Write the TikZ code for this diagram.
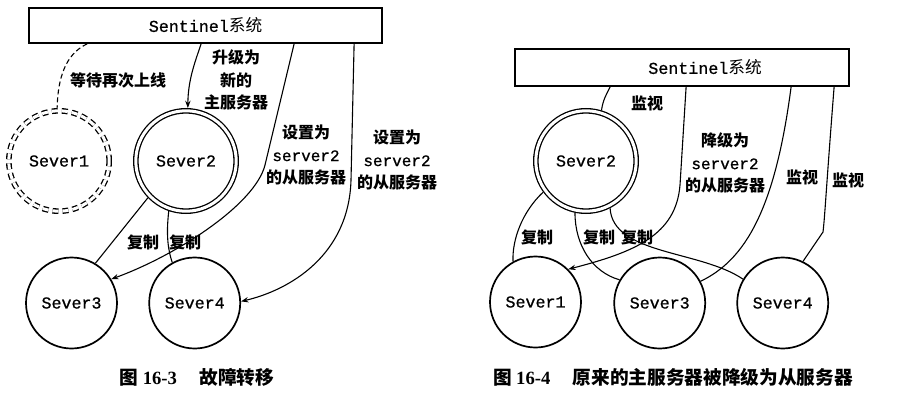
\documentclass[tikz,border=0pt]{standalone}
\usepackage{fontspec}
\setmainfont{Liberation Serif}
\setmonofont{Liberation Mono}[FakeBold=0.8]
\newfontfamily\cjk{Noto Sans CJK SC}
\usetikzlibrary{arrows.meta,calc}
\newlength\pxu
\setlength\pxu{0.75pt}
\newcommand\srvfont{\fontsize{12.5}{15}\selectfont\ttfamily}
\newcommand\lblfont{\fontsize{12}{17}\selectfont\cjk\bfseries}
\newcommand\capfont{\fontsize{14}{16}\selectfont\cjk\bfseries}
\newcommand\boxfont{\fontsize{12.5}{15}\selectfont}
\tikzset{
  sbox/.style={draw, line width=1.8\pxu, inner sep=0pt, font=\boxfont},
  srv/.style={circle, draw, line width=1.7\pxu, minimum size=91\pxu, inner sep=0pt, font=\srvfont},
  msrv/.style={circle, draw, double, line width=1.3\pxu, double distance=3\pxu, minimum size=100.4\pxu, inner sep=0pt, outer sep=2.8\pxu, font=\srvfont},
  dsrv/.style={msrv, dash pattern=on 6\pxu off 4\pxu},
  link/.style={line width=1.1\pxu},
  arr/.style={link, -{Stealth[length=5.5pt,width=4pt]}},
  lbl/.style={font=\lblfont, align=center, inner sep=0pt},
  captxt/.style={font=\capfont, inner sep=0pt}
}
\begin{document}
\begin{tikzpicture}[x=0.75pt,y=-0.75pt]
\useasboundingbox (0,0) rectangle (923,406);
% ---------- left: Figure 16-3 ----------
\node[sbox, minimum width=353\pxu, minimum height=35\pxu] (box1) at (205.5,25.5) {\ttfamily Sentinel{\cjk 系统}};
\node[dsrv] (s1) at (59,161) {Sever1};
\node[msrv] (s2) at (186,161) {Sever2};
\node[srv] (s3) at (71.5,303) {Sever3};
\node[srv] (s4) at (194.7,303) {Sever4};
\draw[link, dash pattern=on 5\pxu off 3\pxu] ($(box1.south west)+(59,0)$) .. controls (70,52) and (58,70) .. (s1.92);
\draw[arr] ($(box1.south west)+(173,0)$) .. controls (195,62) and (188,80) .. (s2.88);
\draw[arr] ($(box1.south west)+(266,0)$) -- (265,165) .. controls (255,205) and (175,256) .. (s3.31);
\draw[arr] ($(box1.south west)+(326,0)$) -- (351,180) .. controls (349,255) and (290,290) .. (s4.2);
\draw[link] (s2.224) -- (s3.59);
\draw[link] (s2.251) .. controls (166,235) and (168,250) .. (s4.119);
\node[lbl] (l1) at (118,80) {等待再次上线};
\node[lbl] (l2) at (236,80) {升级为\\新的\\主服务器};
\node[lbl] (l3) at (306,155) {设置为\\{\ttfamily\mdseries server2}\\的从服务器};
\node[lbl] (l4) at (397,160) {设置为\\{\ttfamily\mdseries server2}\\的从服务器};
\node[lbl] (l5) at (143,242) {复制};
\node[lbl] (l6) at (185,242) {复制};
\node[captxt] (c1) at (197,377) {图 {\rmfamily 16-3}\hspace{1.2em}故障转移};
% ---------- right: Figure 16-4 ----------
\node[sbox, minimum width=334\pxu, minimum height=37\pxu] (box2) at (682,67.5) {\hspace*{46\pxu}\ttfamily Sentinel{\cjk 系统}};
\node[srv] (r1) at (535.5,302) {Sever1};
\node[msrv] (r2) at (586,161) {Sever2};
\node[srv] (r3) at (659.7,303) {Sever3};
\node[srv] (r4) at (782.7,303) {Sever4};
\draw[link] ($(box2.south west)+(96,0)$) .. controls (606,95) and (603,100) .. (r2.73);
\draw[arr] ($(box2.south west)+(172,0)$) -- (680,185) .. controls (676,235) and (635,252) .. (r1.45);
\draw[link] (r2.216) .. controls (522,212) and (512,240) .. (r1.119);
\draw[link] (r2.258) .. controls (575,245) and (592,272) .. (r3.150);
\draw[link] (r2.297) .. controls (613,255) and (700,250) .. (r4.149);
\draw[link] ($(box2.south west)+(277,0)$) .. controls (775,210) and (745,260) .. (r3.28);
\draw[link] ($(box2.south west)+(320,0)$) .. controls (826,190) and (825,215) .. (823,232) -- (r4.64);
\node[lbl] (m1) at (647,103) {监视};
\node[lbl] (m2) at (802,177) {监视};
\node[lbl] (m3) at (848,180) {监视};
\node[lbl] (m4) at (725,163) {降级为\\{\ttfamily\mdseries server2}\\的从服务器};
\node[lbl] (m5) at (537,237) {复制};
\node[lbl] (m6) at (599,237) {复制};
\node[lbl] (m7) at (637,237) {复制};
\node[captxt] (c2) at (673,377) {图 {\rmfamily 16-4}\hspace{1.2em}原来的主服务器被降级为从服务器};
\end{tikzpicture}
\end{document}
